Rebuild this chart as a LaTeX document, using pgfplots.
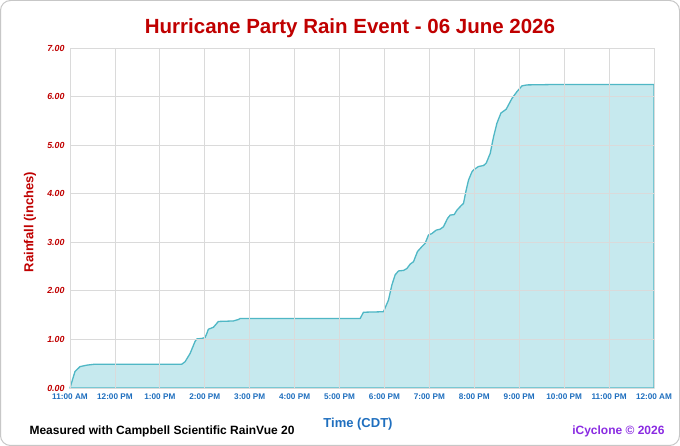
\documentclass[border=0pt]{standalone}
\usepackage{pgfplots}
\pgfplotsset{compat=1.18}
\usepackage{fontspec}
\setmainfont{Liberation Sans}
\definecolor{titlered}{HTML}{C00000}
\definecolor{tickred}{HTML}{C00000}
\definecolor{tickblue}{HTML}{1F6FBF}
\definecolor{iccol}{HTML}{8A2BE2}
\definecolor{areafill}{HTML}{C6E9EE}
\definecolor{arealine}{HTML}{4FB7C5}
\definecolor{gridc}{HTML}{DADADA}
\pgfplotstableread{
h v
0.000 0.00
0.111 0.34
0.223 0.44
0.372 0.47
0.557 0.49
2.488 0.49
2.561 0.54
2.673 0.71
2.784 0.96
2.822 1.01
2.933 1.02
3.007 1.04
3.045 1.12
3.080 1.21
3.192 1.25
3.267 1.33
3.303 1.37
3.637 1.38
3.748 1.41
3.786 1.43
6.459 1.43
6.532 1.56
6.978 1.57
7.089 1.81
7.165 2.12
7.238 2.33
7.312 2.41
7.423 2.42
7.499 2.46
7.572 2.55
7.646 2.60
7.735 2.81
7.833 2.91
7.906 2.98
7.980 3.15
8.056 3.18
8.151 3.25
8.241 3.27
8.314 3.32
8.403 3.49
8.463 3.56
8.552 3.57
8.612 3.66
8.702 3.75
8.759 3.80
8.820 4.08
8.871 4.28
8.947 4.45
8.982 4.49
9.093 4.56
9.205 4.58
9.265 4.63
9.354 4.83
9.428 5.17
9.503 5.45
9.592 5.66
9.710 5.74
9.837 5.96
9.948 6.10
10.060 6.22
10.171 6.24
10.913 6.25
13.000 6.25
}\raindata
\begin{document}
\begin{tikzpicture}[x=1pt,y=1pt]
\path[use as bounding box] (0,0) rectangle (680,446);
\draw[draw=black!22, line width=1pt, rounded corners=10pt, fill=white] (0.5,0.5) rectangle (679.5,445.5);
\begin{axis}[
  at={(70pt,58pt)}, anchor=south west,
  scale only axis, width=584pt, height=340pt,
  xmin=0, xmax=13, ymin=0, ymax=7,
  xtick={0,...,13},
  xticklabels={11:00 AM,12:00 PM,1:00 PM,2:00 PM,3:00 PM,4:00 PM,5:00 PM,6:00 PM,7:00 PM,8:00 PM,9:00 PM,10:00 PM,11:00 PM,12:00 AM},
  ytick={0,...,7},
  /pgf/number format/fixed, /pgf/number format/fixed zerofill, /pgf/number format/precision=2, /pgf/number format/assume math mode=true,
  y tick label style={font=\fontsize{8.8}{10}\selectfont\bfseries\itshape, text=tickred, xshift=-2pt},
  x tick label style={font=\fontsize{8.2}{10}\selectfont\bfseries, text=tickblue, yshift=-2pt},
  major tick length=0pt,
  grid=major,
  grid style={draw=gridc, line width=0.8pt},
  axis line style={draw=none},
  axis on top,
  clip=false,
]
\addplot[fill=areafill, draw=arealine, line width=1.3pt, line join=round] table[x=h,y=v] {\raindata} \closedcycle;
\draw[draw=black!30, line width=0.8pt] (axis cs:0,0) -- (axis cs:0,7);
\end{axis}
\node[font=\fontsize{20.5}{24}\selectfont\bfseries, text=titlered] at (350,418) {Hurricane Party Rain Event - 06 June 2026};
\node[font=\fontsize{13}{15}\selectfont\bfseries, text=titlered, rotate=90] at (30,224) {Rainfall (inches)};
\node[font=\fontsize{13}{15}\selectfont\bfseries, text=tickblue] at (358,22) {Time (CDT)};
\node[font=\fontsize{12}{14}\selectfont\bfseries, text=black, anchor=west] at (26,15) {Measured with Campbell Scientific RainVue 20};
\node[font=\fontsize{12}{14}\selectfont\bfseries, text=iccol, anchor=east] at (668,15) {iCyclone \textcopyright{} 2026};
\end{tikzpicture}
\end{document}
